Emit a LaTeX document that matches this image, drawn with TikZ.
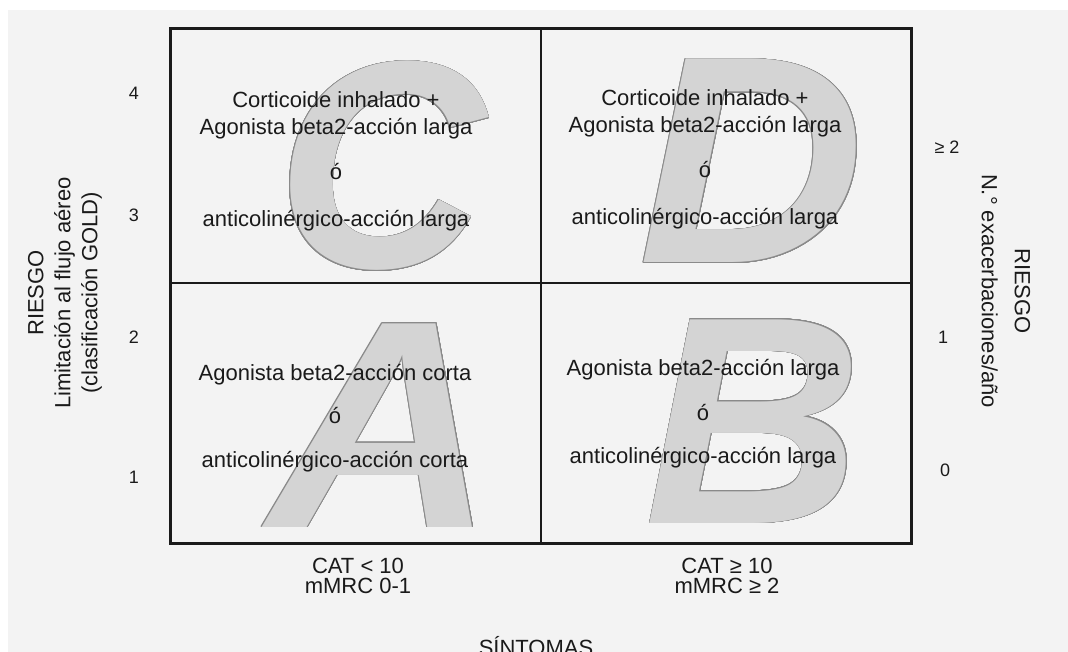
\documentclass[tikz,border=0pt]{standalone}
\usepackage{fontspec}
\setmainfont{Liberation Sans}
\usepackage{contour}
\usetikzlibrary{positioning}

\definecolor{paper}{HTML}{F3F3F3}
\definecolor{ink}{HTML}{1A1A1A}
\definecolor{letterfill}{HTML}{D4D4D4}
\definecolor{letteredge}{HTML}{8A8A8A}
\contourlength{0.7pt}
\contournumber{24}

\begin{document}
\begin{tikzpicture}[
    x=1pt, y=-1pt, text=ink,
    frame/.style={draw=ink, line width=3pt},
    divider/.style={draw=ink, line width=1.3pt},
    bigletter/.style={inner sep=0pt, anchor=base, text=letterfill,
                      font=\fontsize{296}{296}\selectfont\bfseries\itshape},
    treat/.style={align=center, inner sep=0pt,
                  font=\fontsize{22}{27}\selectfont},
    axislabel/.style={align=center, inner sep=0pt,
                      font=\fontsize{22}{27}\selectfont},
    tick/.style={inner sep=0pt, font=\fontsize{18}{20}\selectfont}
  ]

  \useasboundingbox (0,0) rectangle (1068,652);
  \fill[paper] (8,10) rectangle (1068,652);

  % Big grey letters of the four groups
  \node[bigletter] (letC) at (381,268)
    {\scalebox{0.98}[1]{\contour{letteredge}{C}}};
  \node[bigletter] (letD) at (752,263)
    {\scalebox{1.06}[1]{\contour{letteredge}{D}}};
  \node[bigletter] (letA) at (382,527)
    {\scalebox{1.06}[1]{\contour{letteredge}{A}}};
  \node[bigletter] (letB) at (754,523)
    {\scalebox{1.02}[1]{\contour{letteredge}{B}}};

  % Frame and quadrants
  \coordinate (nw) at (170,29);
  \coordinate (se) at (911,543);
  \coordinate (mid) at (541,283);
  \draw[divider] (nw -| mid) -- (se -| mid);
  \draw[divider] (nw |- mid) -- (se |- mid);
  \draw[frame] (nw) rectangle (se);

  % Treatments
  \node[treat] (txtC) at (336,161)
    {Corticoide inhalado +\\ Agonista beta2-acción larga\\[18pt]
     ó\\[20pt] anticolinérgico-acción larga};
  \node[treat] (txtD) at (705,159)
    {Corticoide inhalado +\\ Agonista beta2-acción larga\\[18pt]
     ó\\[20pt] anticolinérgico-acción larga};
  \node[treat] (txtA) at (335,418)
    {Agonista beta2-acción corta\\[16pt] ó\\[17pt]
     anticolinérgico-acción corta};
  \node[treat] (txtB) at (703,414)
    {Agonista beta2-acción larga\\[18pt] ó\\[16pt]
     anticolinérgico-acción larga};

  % Left axis: GOLD
  \node[tick] (g4) at (134,93) {4};
  \node[tick] (g3) at (134,215) {3};
  \node[tick] (g2) at (134,337) {2};
  \node[tick] (g1) at (134,477) {1};
  \node[axislabel, rotate=90] (riskL) at (65,293)
    {RIESGO\\ Limitación al flujo aéreo\\ (clasificación GOLD)};

  % Right axis: exacerbations
  \node[tick] (e2) at (947,147) {≥ 2};
  \node[tick] (e1) at (943,337) {1};
  \node[tick] (e0) at (945,470) {0};
  \node[axislabel, rotate=-90] (riskR) at (1006,291)
    {RIESGO\\[6pt] N.° exacerbaciones/año};

  % Bottom axis: symptoms
  \node[axislabel] (catLow) at (358,566) {CAT < 10};
  \node[axislabel, below=4pt of catLow] (mmrcLow) {mMRC 0-1};
  \node[axislabel] (catHigh) at (727,566) {CAT ≥ 10};
  \node[axislabel, below=4pt of catHigh] (mmrcHigh) {mMRC ≥ 2};
  \node[axislabel] (symptoms) at (536,646) {SÍNTOMAS};
\end{tikzpicture}
\end{document}
